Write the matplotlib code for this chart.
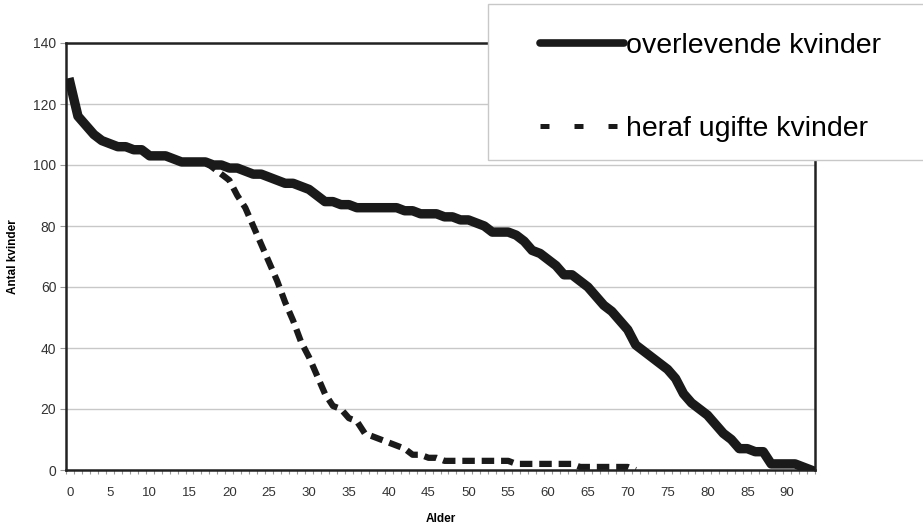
import matplotlib
matplotlib.use('Agg')
import matplotlib.pyplot as plt
from matplotlib.lines import Line2D
from matplotlib.patches import Rectangle

plt.rcParams['font.family'] = ['Liberation Sans', 'DejaVu Sans']

# data
ages = list(range(94))
overlevende = [127, 116, 113, 110, 108, 107, 106, 106, 105, 105,
               103, 103, 103, 102, 101, 101, 101, 101, 100, 100,
               99, 99, 98, 97, 97, 96, 95, 94, 94, 93,
               92, 90, 88, 88, 87, 87, 86, 86, 86, 86,
               86, 86, 85, 85, 84, 84, 84, 83, 83, 82,
               82, 81, 80, 78, 78, 78, 77, 75, 72, 71,
               69, 67, 64, 64, 62, 60, 57, 54, 52, 49,
               46, 41, 39, 37, 35, 33, 30, 25, 22, 20,
               18, 15, 12, 10, 7, 7, 6, 6, 2, 2,
               2, 2, 1, 0]
ugifte_ages = list(range(17, 72))
ugifte = [101, 99, 97, 95, 90, 86, 80, 74, 68, 62,
          55, 49, 42, 37, 31, 25, 21, 20, 17, 16,
          12, 11, 10, 9, 8, 7, 5, 5, 4, 4,
          3, 3, 3, 3, 3, 3, 3, 3, 3,
          2, 2, 2, 2, 2, 2, 2, 2,
          1, 1, 1, 1, 1, 1, 1,
          0]
labels = ['overlevende kvinder', 'heraf ugifte kvinder']

fig = plt.figure(figsize=(9.23, 5.28), dpi=100)
ax = fig.add_axes([66/923, 1-470/528, (815-66)/923, (470-43)/528])

ax.plot(ugifte_ages, ugifte, color='#1a1a1a', lw=4.5, dashes=(2.0, 1.1),
        solid_capstyle='butt', zorder=2)
ax.plot(ages, overlevende, color='#1a1a1a', lw=6.8, solid_joinstyle='round',
        zorder=3)

ax.set_xlim(-0.5, 93.5)
ax.set_ylim(0, 140)
ax.set_yticks(range(0, 141, 20))
ax.yaxis.grid(True, color='#c8c8c8', lw=1)
ax.set_axisbelow(True)

# ticks between categories, labels every 5 years
ax.set_xticks([a - 0.5 for a in ages] + [93.5])
ax.set_xticklabels([])
ax.set_xticks(ages[::5], minor=True)
ax.set_xticklabels([str(a) for a in ages[::5]], minor=True)
ax.tick_params(axis='x', which='minor', length=0, labelsize=9.5, pad=12,
               labelcolor='#333333')
ax.tick_params(axis='x', which='major', length=3, color='#999999', width=0.8)
ax.tick_params(axis='y', length=4, color='#999999', labelsize=10,
               labelcolor='#333333', pad=3)

for s in ax.spines.values():
    s.set_linewidth(1.8)
    s.set_color('#222222')

ax.set_xlabel('Alder', fontsize=8.5, fontweight='bold', labelpad=10)
ax.set_ylabel('Antal kvinder', fontsize=8.5, fontweight='bold', labelpad=10)

# legend box (runs off the right edge as in the original)
fig.add_artist(Rectangle((488/923, 1-160/528), 440/923, 156/528,
                         transform=fig.transFigure, facecolor='white',
                         edgecolor='#c8c8c8', lw=1, zorder=4))
handles = [Line2D([], [], color='#1a1a1a', lw=5.5, solid_capstyle='round'),
           Line2D([], [], color='#1a1a1a', lw=3.6, dashes=(1.8, 5.0))]
fig.legend(handles, labels, loc='upper left',
           bbox_to_anchor=(540/923, 1-33/528), frameon=False, fontsize=20.5,
           handlelength=2.95, handletextpad=0.08, labelspacing=2.0,
           borderpad=0, borderaxespad=0)

fig.savefig('out.png', dpi=100)
